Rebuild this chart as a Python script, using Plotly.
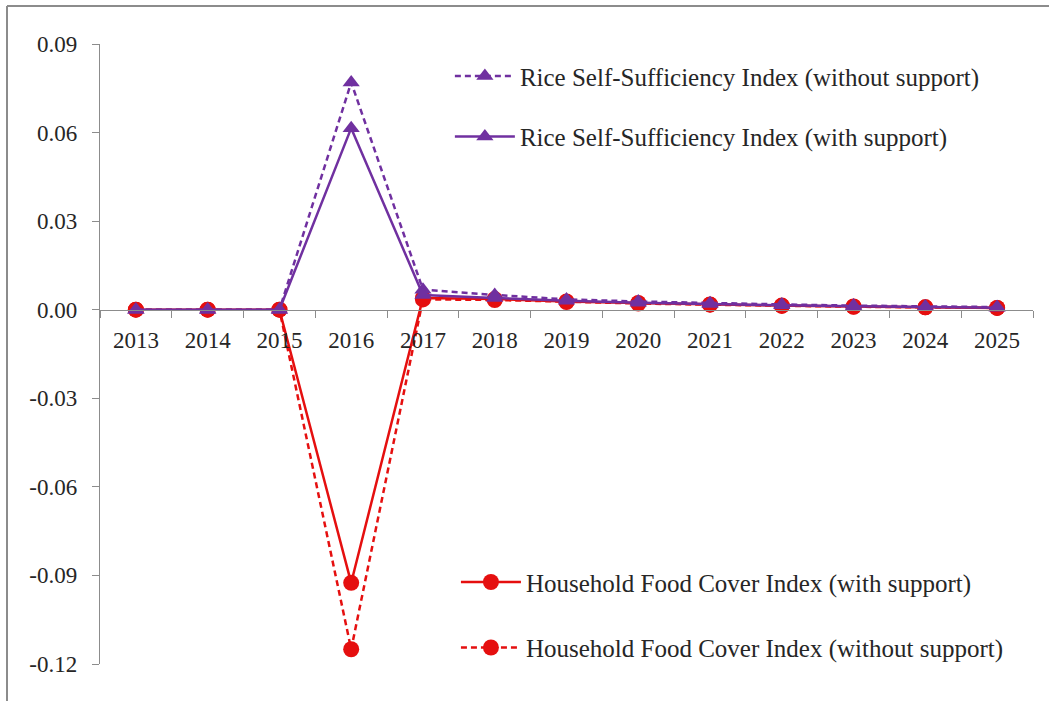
import plotly.graph_objects as go

years = ["2013", "2014", "2015", "2016", "2017", "2018", "2019", "2020", "2021", "2022", "2023", "2024", "2025"]
rice_without = [0, 0, 0, 0.077, 0.0068, 0.0050, 0.0035, 0.0028, 0.0022, 0.0018, 0.0014, 0.0011, 0.0009]
rice_with = [0, 0, 0, 0.0615, 0.0050, 0.0040, 0.0030, 0.0024, 0.0019, 0.0015, 0.0012, 0.0009, 0.0007]
hh_with = [0, 0, 0, -0.0925, 0.0040, 0.0036, 0.0028, 0.0023, 0.0018, 0.0014, 0.0011, 0.0008, 0.0006]
hh_without = [0, 0, 0, -0.1150, 0.0035, 0.0033, 0.0026, 0.0021, 0.0017, 0.0013, 0.0010, 0.0008, 0.0006]
y_ticks = [0.09, 0.06, 0.03, 0.0, -0.03, -0.06, -0.09, -0.12]
y_tick_text = ["0.09", "0.06", "0.03", "0.00", "-0.03", "-0.06", "-0.09", "-0.12"]

PURPLE = "#7030A0"
RED = "#E50F0F"
FONT = "Liberation Serif"
TXT = "#262626"

fig = go.Figure()

fig.add_trace(go.Scatter(
    x=years, y=hh_with, mode="lines+markers", name="Household Food Cover Index (with support)",
    line=dict(color=RED, width=2.5), marker=dict(symbol="circle", size=16, color=RED),
    legend="legend2", legendgroup="h1", legendrank=1))
fig.add_trace(go.Scatter(
    x=years, y=hh_without, mode="lines+markers", name="Household Food Cover Index (without support)",
    line=dict(color=RED, width=2.5, dash="6px,4px"), marker=dict(symbol="circle", size=16, color=RED),
    legend="legend2", legendgroup="h2", legendrank=2))
fig.add_trace(go.Scatter(
    x=years, y=rice_without, mode="lines+markers", name="Rice Self-Sufficiency Index (without support)",
    line=dict(color=PURPLE, width=2.5, dash="6px,4px"), marker=dict(symbol="triangle-up", size=15, color=PURPLE),
    legend="legend", legendgroup="r1", legendrank=1))
fig.add_trace(go.Scatter(
    x=years, y=rice_with, mode="lines+markers", name="Rice Self-Sufficiency Index (with support)",
    line=dict(color=PURPLE, width=2.5), marker=dict(symbol="triangle-up", size=15, color=PURPLE),
    legend="legend", legendgroup="r2", legendrank=2))

y_min, y_max = -0.12, 0.09
zero_pos = (0 - y_min) / (y_max - y_min)

fig.update_layout(
    width=1049, height=701,
    margin=dict(l=100, r=16, t=44, b=37),
    paper_bgcolor="white", plot_bgcolor="white",
    font=dict(family=FONT, size=23, color=TXT),
    showlegend=True,
    xaxis=dict(
        type="category", range=[-0.5, 12.5], anchor="free", position=zero_pos,
        showline=True, linecolor="#8c8c8c", linewidth=1.3,
        ticks="outside", tickson="boundaries", ticklen=7, tickcolor="#8c8c8c", ticklabelstandoff=10,
        showgrid=False, zeroline=False, tickfont=dict(size=23, family=FONT, color=TXT),
    ),
    yaxis=dict(
        range=[y_min, y_max], tickvals=y_ticks, ticktext=y_tick_text,
        showline=True, linecolor="#8c8c8c", linewidth=1.3,
        ticks="outside", ticklen=7, tickcolor="#8c8c8c", ticklabelstandoff=10,
        showgrid=False, zeroline=False, tickfont=dict(size=23, family=FONT, color=TXT),
    ),
    legend=dict(
        x=0.375, y=0.985, xanchor="left", yanchor="top", bgcolor="rgba(0,0,0,0)",
        traceorder="grouped", tracegroupgap=25, font=dict(size=25, family=FONT, color=TXT),
        itemwidth=60,
    ),
    legend2=dict(
        x=0.3815, y=0.169, xanchor="left", yanchor="top", bgcolor="rgba(0,0,0,0)",
        traceorder="grouped", tracegroupgap=30, font=dict(size=25, family=FONT, color=TXT),
        itemwidth=60,
    ),
    shapes=[
        dict(type="line", xref="paper", yref="paper", x0=(7 - 100) / 933, x1=(1049 - 100) / 933,
             y0=(664 - 6) / 620, y1=(664 - 6) / 620, line=dict(color="#8c8c8c", width=2)),
        dict(type="line", xref="paper", yref="paper", x0=(7 - 100) / 933, x1=(7 - 100) / 933,
             y0=(664 - 6) / 620, y1=(664 - 701) / 620, line=dict(color="#8c8c8c", width=2)),
    ],
)

fig.write_html("out.html", post_script="document.body.style.margin='0';",
               config={"displayModeBar": False})
